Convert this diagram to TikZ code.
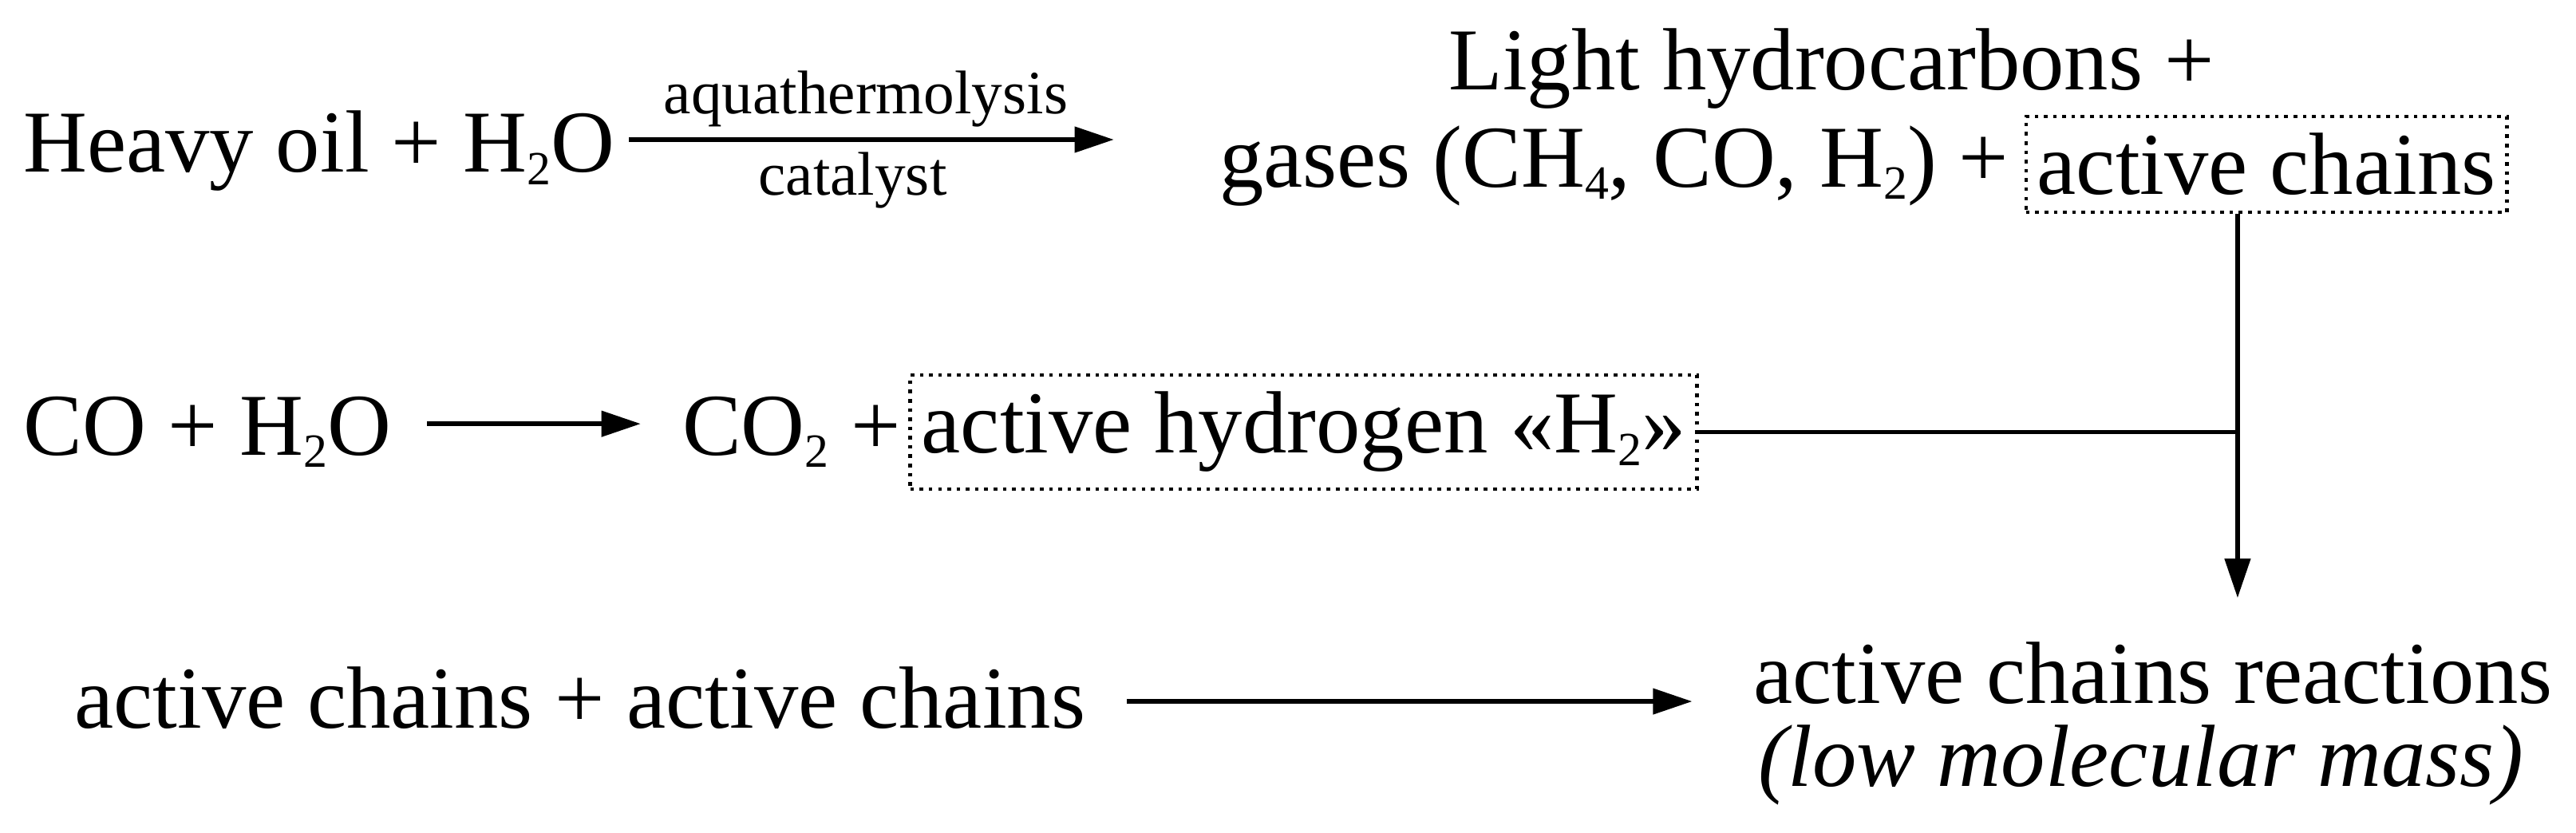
\documentclass[tikz,border=0pt]{standalone}
\usepackage{fontspec}
\setmainfont{Liberation Serif}
\usetikzlibrary{arrows.meta}
\newcommand{\sbs}[1]{\raisebox{-0.3ex}{\fontsize{17}{18}\selectfont #1}}
\begin{document}
\begin{tikzpicture}[x=0.0206cm,y=-0.0206cm,
  txt/.style={font=\fontsize{31.5}{36}\selectfont,inner sep=0pt},
  sm/.style={font=\fontsize{22}{26}\selectfont,inner sep=0pt},
  dbox/.style={draw,dotted,line width=1.3pt,inner xsep=4pt,inner ysep=6pt},
  arr/.style={line width=1.6pt,-{Triangle[length=14pt,width=9pt]}},
  ln/.style={line width=1.6pt}]
\useasboundingbox (0,0) rectangle (1568,507);
\node[txt,anchor=west] (heavy) at (14,92) {Heavy oil + H\sbs{2}O};
\coordinate (a1s) at (383,85); \coordinate (a1e) at (678,85);
\draw[arr] (a1s) -- (a1e);
\node[sm] (aq) at (527,60) {aquathermolysis};
\node[sm] (cat) at (519,110) {catalyst};
\node[txt] (light) at (1115,42) {Light hydrocarbons +};
\node[txt,anchor=west] (gases) at (742,101) {gases (CH\sbs{4}, CO, H\sbs{2}) +};
\node[txt,dbox,anchor=east] (ac) at (1527,100) {active chains};
\node[txt,anchor=west] (co) at (14,263) {CO + H\sbs{2}O};
\coordinate (a2s) at (260,258); \coordinate (a2e) at (390,258);
\draw[arr] (a2s) -- (a2e);
\node[txt,anchor=west] (co2) at (415,263) {CO\sbs{2} +};
\node[txt,dbox,anchor=west] (ah) at (553,263) {active hydrogen «H\sbs{2}»};
\node[txt,anchor=west] (acac) at (45,425) {active chains + active chains};
\coordinate (a3s) at (686,427); \coordinate (a3e) at (1030,427);
\draw[arr] (a3s) -- (a3e);
\node[txt,anchor=west] (acr) at (1067,410) {active chains reactions};
\node[txt,anchor=west] (low) at (1070,466) {\itshape (low molecular mass)};
\coordinate (j) at (1362,263);
\coordinate (down) at (1362,364);
\draw[ln] (ah.east) -- (j);
\draw[arr] (ac.south -| j) -- (down);
\end{tikzpicture}
\end{document}
